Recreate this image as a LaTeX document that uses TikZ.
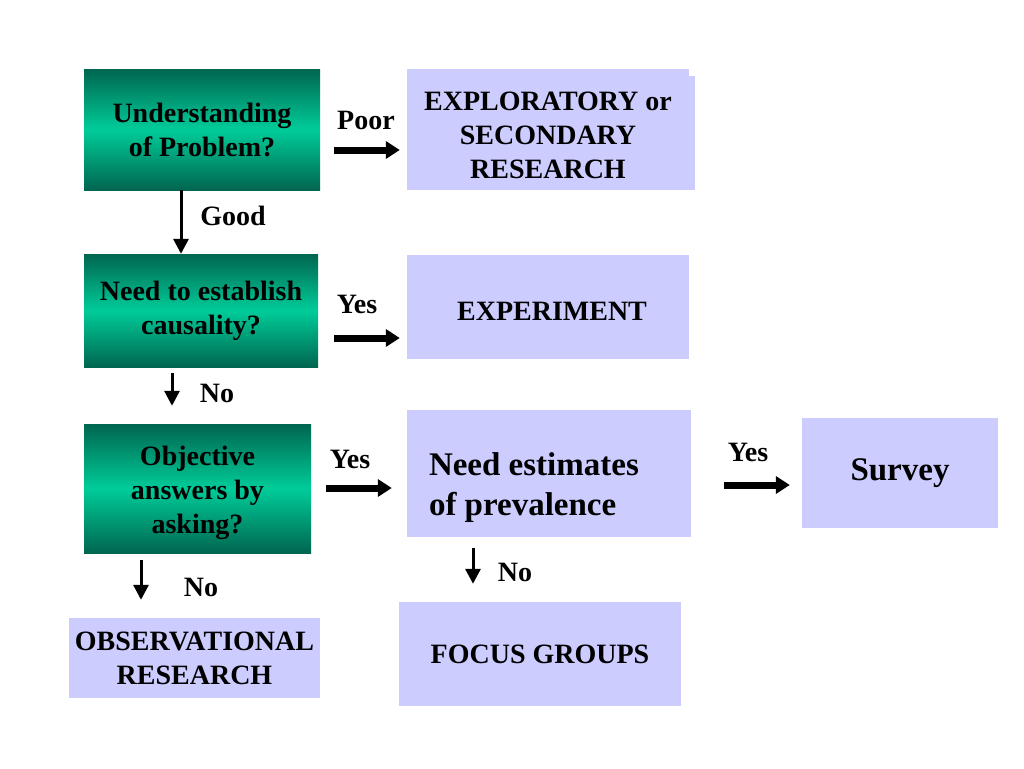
\documentclass[tikz,border=0pt]{standalone}
\usepackage{fontspec}
\setmainfont{Liberation Serif}
\usetikzlibrary{arrows.meta}
\definecolor{lav}{HTML}{CCCCFF}
\definecolor{gdark}{HTML}{006650}
\definecolor{gmid}{HTML}{00CC99}
\begin{document}
\begin{tikzpicture}[x=1pt,y=-1pt,
  txt/.style={font=\fontsize{28}{34}\selectfont\bfseries, align=center},
  gbox/.style={txt, inner sep=0pt, top color=gdark, bottom color=gdark, middle color=gmid},
  lbox/.style={txt, inner sep=0pt, fill=lav},
  lab/.style={font=\fontsize{28}{34}\selectfont\bfseries, inner sep=0pt},
  biglab/.style={font=\fontsize{33}{40}\selectfont\bfseries, inner sep=0pt, align=left},
  bigarrow/.style={line width=7pt, -{Triangle[length=14pt,width=17pt]}},
  thinarrow/.style={line width=3pt, -{Triangle[length=15pt,width=15pt]}}]
\useasboundingbox (0,0) rectangle (1024,768);
\fill[white] (0,0) rectangle (1024,768);
% boxes
\node[gbox, minimum width=236pt, minimum height=121pt] (g1) at (202,129.5) {Understanding\\of Problem?};
\node[lbox, minimum width=282pt, minimum height=121pt] (exp) at (548,129.5) {};
\fill[lav] ([yshift=-7pt]exp.north east) rectangle ([xshift=6pt]exp.south east);
\node[txt, inner sep=0pt] (exptxt) at ([yshift=-6pt]exp.center) {EXPLORATORY or\\SECONDARY\\RESEARCH};
\node[gbox, minimum width=234pt, minimum height=113pt] (g2) at (201,310.5) {Need to establish\\causality?};
\node[lbox, minimum width=282pt, minimum height=104pt] (expt) at (548,307) {};
\node[txt, inner sep=0pt] (expttxt) at ([xshift=4pt,yshift=-4pt]expt.center) {EXPERIMENT};
\node[gbox, minimum width=227pt, minimum height=129pt] (g3) at (197.5,488.5) {};
\node[txt, inner sep=0pt] (g3txt) at ([yshift=-4pt]g3.center) {Objective\\answers by\\asking?};
\node[lbox, minimum width=284pt, minimum height=127pt] (need) at (549,473.5) {};
\node[biglab, anchor=west] (needtxt) at ([xshift=22pt,yshift=-14pt]need.west) {Need estimates\\of prevalence};
\node[lbox, minimum width=196pt, minimum height=110pt, font=\fontsize{33}{40}\selectfont\bfseries] (survey) at (900,473) {Survey};
\node[lbox, minimum width=251pt, minimum height=80pt] (obs) at (194.5,658) {OBSERVATIONAL\\RESEARCH};
\node[lbox, minimum width=282pt, minimum height=104pt] (focus) at (540,654) {FOCUS GROUPS};
% thick arrows
\draw[bigarrow] ([xshift=14pt,yshift=-20.5pt]g1.east) -- ([xshift=-7pt,yshift=-20.5pt]exp.west);
\draw[bigarrow] ([xshift=16pt,yshift=-27.5pt]g2.east) -- ([xshift=-7pt,yshift=-31pt]expt.west);
\draw[bigarrow] ([xshift=15pt,yshift=0.5pt]g3.east) -- ([xshift=-15pt,yshift=-14.5pt]need.west);
\draw[bigarrow] ([xshift=33pt,yshift=-11.5pt]need.east) -- ([xshift=-12pt,yshift=-12pt]survey.west);
% thin arrows
\draw[thinarrow] ([xshift=-21pt]g1.south) -- ([xshift=-21pt]g1.south |- g2.north);
\draw[thinarrow, shorten <=6pt, shorten >=18pt] ([xshift=-29pt]g2.south) -- ([xshift=-29pt]g2.south |- g3.north);
\draw[thinarrow, shorten <=7pt, shorten >=18pt] ([xshift=-56.5pt]g3.south) -- ([xshift=-56.5pt]g3.south |- obs.north);
\draw[thinarrow, shorten <=11pt, shorten >=18pt] ([xshift=-76pt]need.south) -- ([xshift=-76pt]need.south |- focus.north);
% labels
\node[lab] (lpoor) at (366,120) {Poor};
\node[lab] (lgood) at (233,216) {Good};
\node[lab] (lyes1) at (357,304) {Yes};
\node[lab] (lno1) at (217,393) {No};
\node[lab] (lyes2) at (350,459) {Yes};
\node[lab] (lyes3) at (748,452) {Yes};
\node[lab] (lno2) at (201,587) {No};
\node[lab] (lno3) at (515,572) {No};
\end{tikzpicture}
\end{document}
